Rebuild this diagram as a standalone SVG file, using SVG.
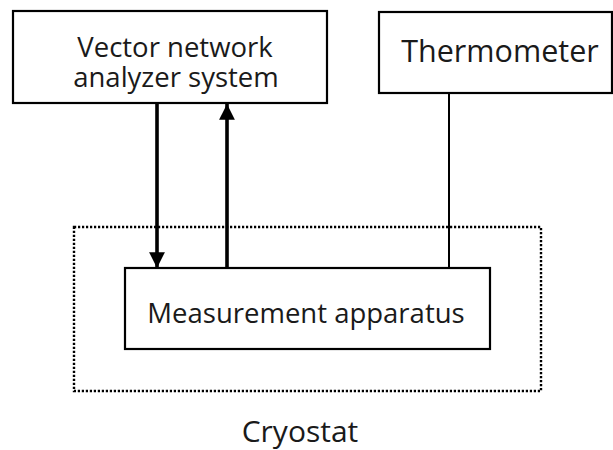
<svg xmlns="http://www.w3.org/2000/svg" width="613" height="450" viewBox="0 0 613 450">
<defs>
<marker id="ah" viewBox="0 0 10 10" refX="10" refY="5" markerWidth="4.6" markerHeight="4.4" markerUnits="strokeWidth" orient="auto">
<path d="M0,0 L10,5 L0,10 z" fill="#000"/>
</marker>
<style>
.box{fill:#fff;stroke:#000;stroke-width:2.2}
.t{font-family:"Open Sans","Noto Sans",sans-serif;fill:#1a1a1a;text-anchor:middle}
.arr{stroke:#000;stroke-width:3.6;fill:none}
.ln{stroke:#000;stroke-width:2;fill:none}
</style>
</defs>
<rect x="0" y="0" width="613" height="450" fill="#fff"/>
<g id="cryostat">
<rect x="74" y="227" width="467" height="164" fill="none" stroke="#000" stroke-width="2.4" stroke-dasharray="2.2 1.8"/>
<text class="t" x="300" y="442" font-size="30">Cryostat</text>
</g>
<g id="vna">
<rect class="box" x="13" y="11" width="314" height="92"/>
<text class="t" x="175" y="57" font-size="27.5">Vector network</text>
<text class="t" x="176" y="87" font-size="27.5">analyzer system</text>
</g>
<g id="thermometer">
<rect class="box" x="379" y="12" width="233" height="81"/>
<text class="t" x="500" y="62" font-size="30.5">Thermometer</text>
</g>
<g id="apparatus">
<rect class="box" x="125" y="268" width="365" height="81"/>
<text class="t" x="306" y="323" font-size="27.5">Measurement apparatus</text>
</g>
<g id="connectors">
<line class="arr" x1="157" y1="104" x2="157" y2="268" marker-end="url(#ah)"/>
<line class="arr" x1="227" y1="267" x2="227" y2="104" marker-end="url(#ah)"/>
<line class="ln" x1="449" y1="93" x2="449" y2="268"/>
</g>
</svg>
